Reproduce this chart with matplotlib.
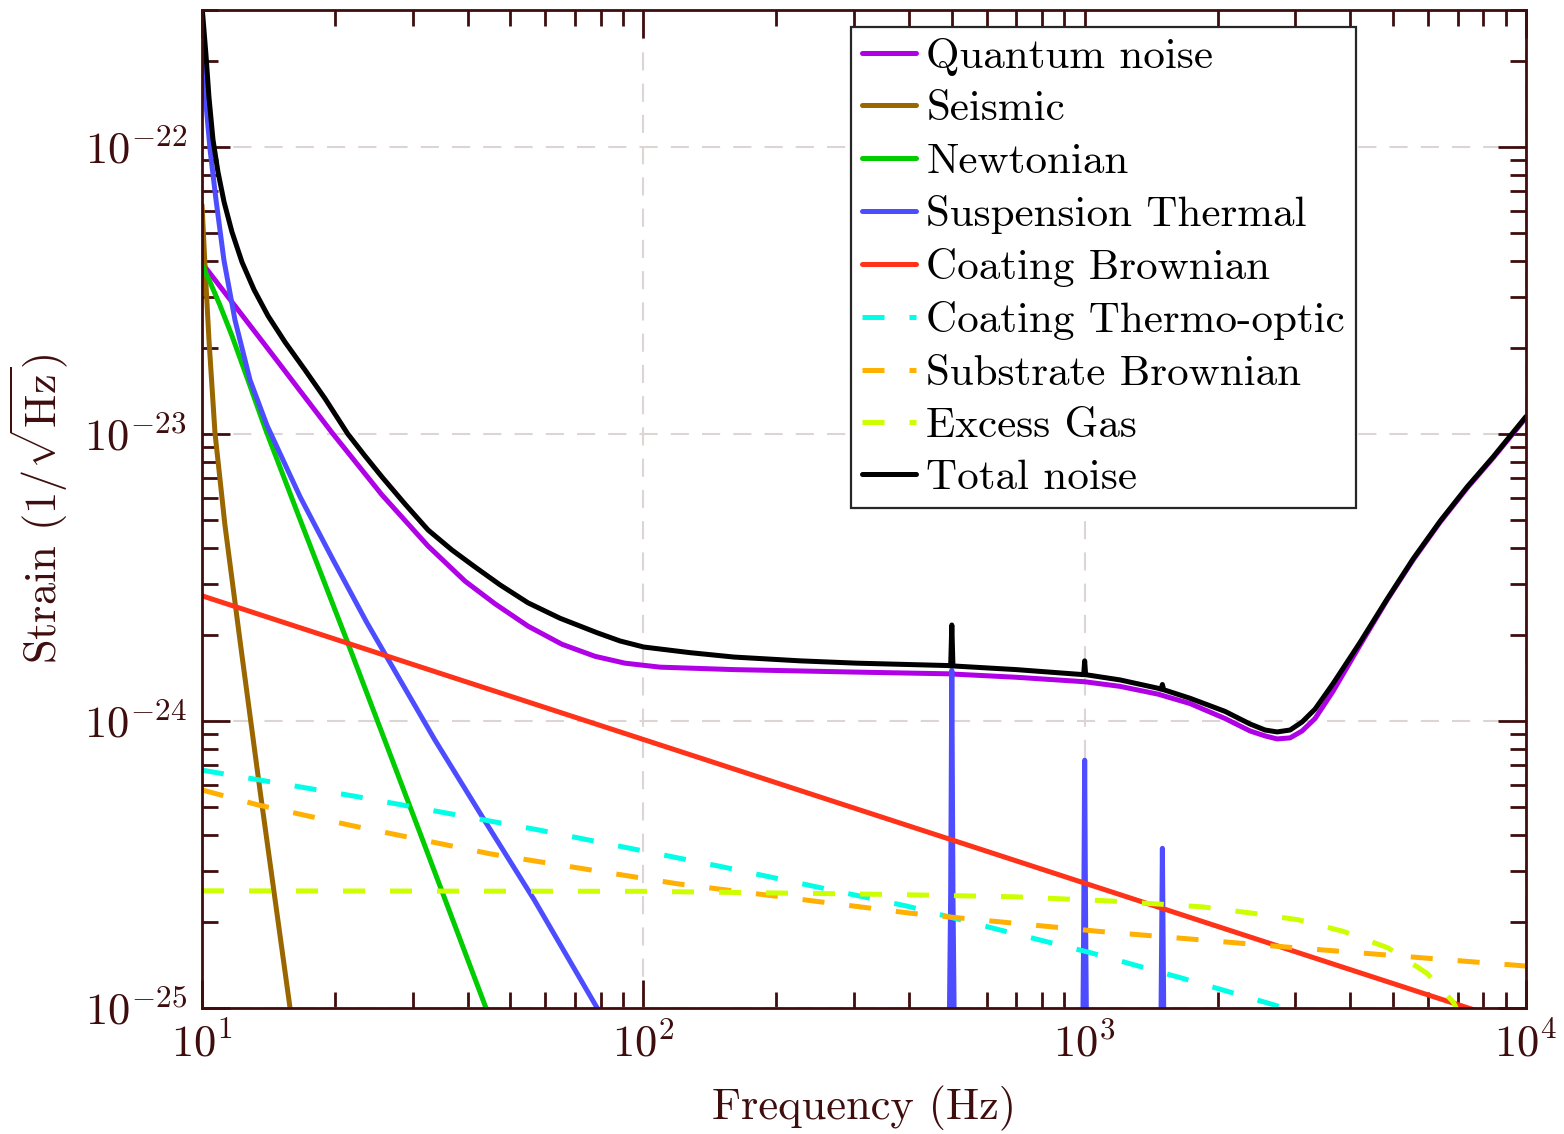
import matplotlib
matplotlib.use("Agg")
import matplotlib.pyplot as plt
from matplotlib.ticker import NullFormatter

# ---- noise budget: frequency (Hz) and amplitude spectral density (1/sqrt(Hz)) ----
quantum_f = [10, 14.11, 19.81, 25.58, 32.52, 39.45, 46.13, 54.80, 65.43, 77.72, 90.87,
             109.1, 160.5, 305, 490, 700, 1000, 1203, 1467, 1733, 2080, 2370, 2564,
             2729, 2920, 3109, 3327, 3655, 4209, 4845, 5548, 6389, 7355, 8423, 10000]
quantum_h = [3.94e-23, 1.98e-23, 1.0e-23, 6.13e-24, 4.07e-24, 3.07e-24, 2.56e-24,
             2.14e-24, 1.85e-24, 1.68e-24, 1.59e-24, 1.54e-24, 1.51e-24, 1.48e-24,
             1.46e-24, 1.42e-24, 1.37e-24, 1.32e-24, 1.24e-24, 1.15e-24, 1.02e-24,
             9.23e-25, 8.87e-25, 8.66e-25, 8.73e-25, 9.23e-25, 1.02e-24, 1.27e-24,
             1.84e-24, 2.64e-24, 3.64e-24, 4.93e-24, 6.48e-24, 8.25e-24, 1.14e-23]

seismic_f = [10, 10.16, 10.37, 10.70, 11.27, 12.19, 13.53, 15.83]
seismic_h = [6.28e-23, 3.82e-23, 2.13e-23, 1.01e-23, 4.82e-24, 1.91e-24, 5.75e-25, 1.0e-25]

newton_f = [10, 10.43, 10.98, 11.69, 12.71, 13.89, 16.69, 21.4, 31.19, 44.0]
newton_h = [3.88e-23, 3.38e-23, 2.81e-23, 2.20e-23, 1.54e-23, 1.05e-23, 5.02e-24,
            1.87e-24, 4.07e-25, 1.0e-25]

susp_f = [10, 10.16, 10.43, 10.76, 11.21, 11.88, 12.85, 14.04, 16.69, 19.82, 23.6,
          28.1, 33.7, 44.0, 56.6, 78.6, 100,
          490, 497, 500, 503, 510,
          985, 995, 1000, 1005, 1015,
          1480, 1493, 1500, 1507, 1520, 10000]
susp_h = [2.9e-22, 1.54e-22, 9.77e-23, 6.53e-23, 4.04e-23, 2.49e-23, 1.54e-23, 1.07e-23,
          6.03e-24, 3.64e-24, 2.21e-24, 1.39e-24, 8.59e-25, 4.42e-25, 2.38e-25, 1.0e-25,
          6.0e-26,
          3e-26, 2.5e-25, 1.5e-24, 2.5e-25, 3e-26,
          3e-26, 2.0e-25, 7.3e-25, 2.0e-25, 3e-26,
          3e-26, 1.5e-25, 3.6e-25, 1.5e-25, 3e-26, 1e-26]

coat_brown_f = [10, 10000]
coat_brown_h = [2.73e-24, 8.6e-26]

thermo_optic_f = [10, 22.0, 58.0, 151.6, 398, 643, 1028, 1663, 2659, 3000]
thermo_optic_h = [6.74e-25, 5.48e-25, 4.17e-25, 3.10e-25, 2.26e-25, 1.87e-25,
                  1.56e-25, 1.27e-25, 1.03e-25, 9.7e-26]

substrate_f = [10, 13.39, 22.0, 45.2, 119.2, 402, 1073, 2875, 10000]
substrate_h = [5.75e-25, 5.10e-25, 4.31e-25, 3.44e-25, 2.71e-25, 2.14e-25,
               1.85e-25, 1.63e-25, 1.40e-25]

gas_f = [10, 100, 344, 696, 1142, 1855, 2394, 3045, 3850, 4870, 5970, 6836, 7200]
gas_h = [2.56e-25, 2.55e-25, 2.49e-25, 2.44e-25, 2.36e-25, 2.25e-25, 2.14e-25,
         2.03e-25, 1.85e-25, 1.62e-25, 1.32e-25, 1.05e-25, 9.0e-26]

total_f = [10, 10.21, 10.37, 10.59, 10.87, 11.22, 11.69, 12.32, 13.12, 14.11, 15.42,
           17.12, 18.99, 21.4, 23.41, 25.58, 28.84, 32.52, 36.86, 41.56, 47.35, 54.80,
           64.75, 78.55, 88.57, 100.2, 127.6, 160.5, 226.5, 305,
           490, 497, 500, 503, 700, 995, 1000, 1005, 1203,
           1467, 1490, 1500, 1510, 1733, 2080, 2370, 2564, 2729, 2920, 3109, 3327,
           3655, 4209, 4845, 5548, 6389, 7355, 8423, 10000]
total_h = [3.1e-22, 2.09e-22, 1.49e-22, 1.06e-22, 8.18e-23, 6.43e-23, 5.06e-23, 3.97e-23,
           3.18e-23, 2.58e-23, 2.09e-23, 1.67e-23, 1.33e-23, 1.0e-23, 8.38e-24, 7.08e-24,
           5.70e-24, 4.63e-24, 3.94e-24, 3.44e-24, 2.98e-24, 2.58e-24, 2.28e-24, 2.03e-24,
           1.90e-24, 1.81e-24, 1.73e-24, 1.67e-24, 1.62e-24, 1.59e-24,
           1.56e-24, 1.555e-24, 2.16e-24, 1.555e-24, 1.51e-24, 1.45e-24, 1.62e-24,
           1.45e-24, 1.39e-24,
           1.30e-24, 1.29e-24, 1.34e-24, 1.285e-24, 1.20e-24, 1.08e-24, 9.76e-25,
           9.30e-25, 9.16e-25, 9.30e-25, 9.92e-25, 1.10e-24,
           1.35e-24, 1.88e-24, 2.66e-24, 3.67e-24, 4.97e-24, 6.54e-24, 8.32e-24, 1.15e-23]

series = [
    ("Quantum noise", quantum_f, quantum_h, "#b000e6", "-"),
    ("Seismic", seismic_f, seismic_h, "#996600", "-"),
    ("Newtonian", newton_f, newton_h, "#00cc00", "-"),
    ("Suspension Thermal", susp_f, susp_h, "#4d4dff", "-"),
    ("Coating Brownian", coat_brown_f, coat_brown_h, "#ff3319", "-"),
    ("Coating Thermo-optic", thermo_optic_f, thermo_optic_h, "#00ffe6", "--"),
    ("Substrate Brownian", substrate_f, substrate_h, "#ffb000", "--"),
    ("Excess Gas", gas_f, gas_h, "#ccff00", "--"),
    ("Total noise", total_f, total_h, "#000000", "-"),
]

# axis ranges and tick positions
x_range = (10, 1e4)
y_range = (1e-25, 3e-22)
x_decades = [1, 2, 3, 4]
y_decades = [-25, -24, -23, -22]

# ---- style ----
axis_color = "#3f0d0d"
plt.rcParams["font.family"] = "cmr10"
plt.rcParams["mathtext.fontset"] = "cm"
plt.rcParams["axes.formatter.use_mathtext"] = True
plt.rcParams["axes.unicode_minus"] = False

fig = plt.figure(figsize=(15.64, 11.34), dpi=100)
ax = fig.add_axes([202 / 1564, 1 - 1008 / 1134, 1324 / 1564, 998 / 1134])

lw = 3.6
for label, f, h, color, ls in series:
    kw = dict(color=color, lw=lw, label=label, solid_joinstyle="round",
              solid_capstyle="round")
    if ls == "--":
        kw["dashes"] = (4.4, 5.0)
    ax.plot(f, h, **kw)

ax.set_xscale("log")
ax.set_yscale("log")

# explicit ticks kept inside the visible range
x_major = [10.0 ** e for e in x_decades]
y_major = [10.0 ** e for e in y_decades]
x_minor = [m * 10.0 ** e for e in x_decades[:-1] for m in range(2, 10)]
y_minor = [m * 10.0 ** e for e in y_decades for m in range(2, 10)
           if m * 10.0 ** e <= y_range[1] * 1.0001]
ax.set_xticks(x_major)
ax.set_yticks(y_major)
ax.set_xticks(x_minor, minor=True)
ax.set_yticks(y_minor, minor=True)
ax.set_xticklabels([rf"$10^{{{e}}}$" for e in x_decades])
ax.set_yticklabels([rf"$10^{{{e}}}$" for e in y_decades])
ax.xaxis.set_minor_formatter(NullFormatter())
ax.yaxis.set_minor_formatter(NullFormatter())
ax.set_xlim(*x_range)
ax.set_ylim(*y_range)

ax.grid(True, which="major", color="#ddd4d4", lw=1.5, dashes=(8.7, 6.3))
ax.set_axisbelow(True)

for sp in ax.spines.values():
    sp.set_color(axis_color)
    sp.set_linewidth(2.0)
ax.tick_params(which="both", direction="in", top=True, right=True,
               colors=axis_color, labelsize=32, width=2.0, pad=11)
ax.tick_params(which="major", length=20)
ax.tick_params(which="minor", length=11.5)

ax.set_xlabel("Frequency (Hz)", fontsize=32, color=axis_color, labelpad=14)
ax.set_ylabel(r"Strain $(1/\sqrt{\mathrm{Hz}})$", fontsize=32, color=axis_color,
              labelpad=10)

leg = ax.legend(loc="upper right", bbox_to_anchor=(1356 / 1564, 1 - 27 / 1134),
                bbox_transform=fig.transFigure, borderaxespad=0, fontsize=31,
                frameon=True, fancybox=False, framealpha=1, edgecolor="#262626",
                labelspacing=0.33, handlelength=1.25, handletextpad=0.25,
                borderpad=0.25)
leg.get_frame().set_linewidth(1.6)

fig.savefig("out.png", dpi=100)
